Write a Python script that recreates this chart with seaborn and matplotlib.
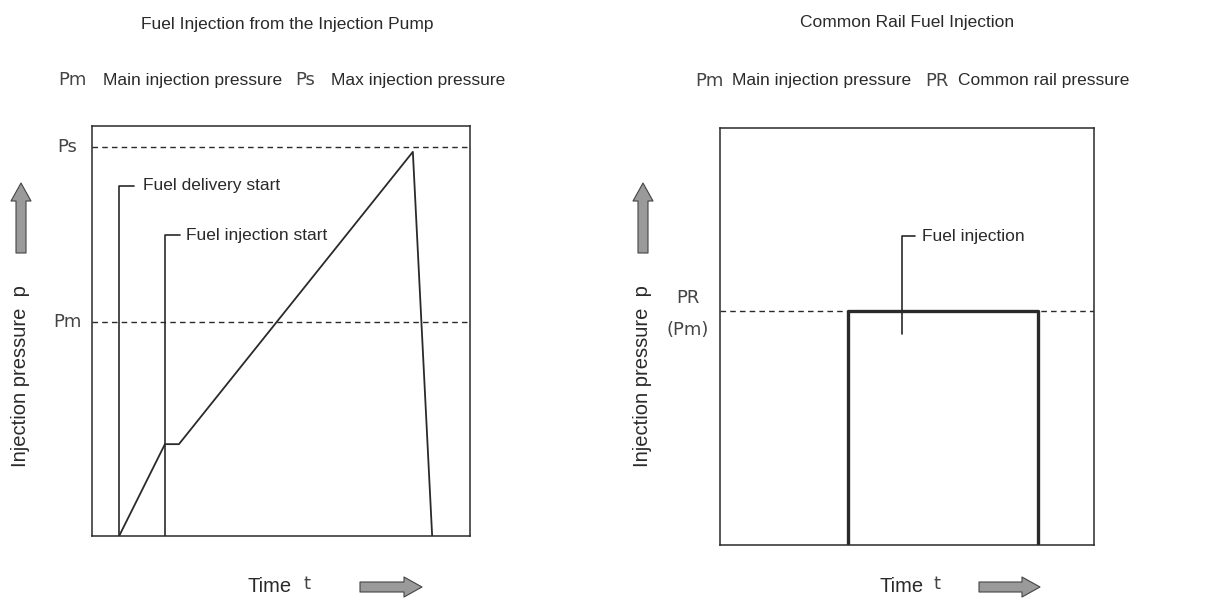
import matplotlib
matplotlib.use("Agg")
import matplotlib.pyplot as plt
import seaborn as sns
import pandas as pd

W, H = 1219, 599

# left panel (pump injection), time and pressure in % of axis
pump_t = [7.3, 19.4, 23.1, 84.9, 90.0]
pump_p = [0.0, 22.4, 22.4, 93.7, 0.0]
ps_level = 94.9
pm_level = 52.2
delivery_t, delivery_top = 7.3, 85.4
inject_t, inject_top = 19.4, 73.4

# right panel (common rail)
rail_t = [34.2, 34.2, 85.0, 85.0]
rail_p = [0.0, 56.0, 56.0, 0.0]
pr_level = 56.0
rail_mark_t, rail_mark_top, rail_mark_bot = 48.7, 74.1, 50.6

sns.set_style("white")
plt.rcParams["font.family"] = ["Liberation Sans", "DejaVu Sans"]

ink = "#2a2a2a"
fig = plt.figure(figsize=(W / 100, H / 100), dpi=100)


def fx(x):
    return x / W


def fy(y):
    return 1 - y / H


ax1 = fig.add_axes([fx(91.5), fy(536), 378.5 / W, 410 / H])
ax2 = fig.add_axes([fx(720), fy(545), 374 / W, 417 / H])

for ax in (ax1, ax2):
    ax.set_xlim(0, 100)
    ax.set_ylim(0, 100)
    ax.set_xticks([])
    ax.set_yticks([])
    for s in ax.spines.values():
        s.set_color(ink)
        s.set_linewidth(1.1)

# left curves
df1 = pd.DataFrame({"t": pump_t, "p": pump_p})
sns.lineplot(data=df1, x="t", y="p", ax=ax1, sort=False, estimator=None, color=ink, lw=1.3)
ax1.axhline(ps_level, color=ink, lw=1.0, ls=(0, (4, 3)))
ax1.axhline(pm_level, color=ink, lw=1.0, ls=(0, (4, 3)))
ax1.plot([delivery_t, delivery_t, 11.2], [0, delivery_top, delivery_top], color=ink, lw=1.2)
ax1.plot([inject_t, inject_t, 23.4], [0, inject_top, inject_top], color=ink, lw=1.2)
ax1.text(13.6, delivery_top, "Fuel delivery start", va="center", ha="left", fontsize=12.5, color=ink)
ax1.text(25.0, inject_top, "Fuel injection start", va="center", ha="left", fontsize=12.5, color=ink)

# right curves
df2 = pd.DataFrame({"t": rail_t, "p": rail_p})
sns.lineplot(data=df2, x="t", y="p", ax=ax2, sort=False, estimator=None, color=ink, lw=2.4)
ax2.axhline(pr_level, color=ink, lw=1.0, ls=(0, (4, 3)), zorder=0)
ax2.plot([rail_mark_t, rail_mark_t, 52.1], [rail_mark_bot, rail_mark_top, rail_mark_top], color=ink, lw=1.2)
ax2.text(54.0, rail_mark_top, "Fuel injection", va="center", ha="left", fontsize=12.5, color=ink)
for ax in (ax1, ax2):
    ax.set_xlabel("")
    ax.set_ylabel("")

sym = dict(family="DejaVu Sans", color="#444444", fontsize=13, va="center")
txt = dict(color=ink, fontsize=12.5, va="center")

# titles
fig.text(fx(287.5), fy(25), "Fuel Injection from the Injection Pump", ha="center", va="center", fontsize=12.5, color=ink)
fig.text(fx(907), fy(22), "Common Rail Fuel Injection", ha="center", va="center", fontsize=12.5, color=ink)

fig.text(fx(58), fy(80), "Pm", ha="left", **sym)
fig.text(fx(103), fy(80), "Main injection pressure", ha="left", **txt)
fig.text(fx(295), fy(80), "Ps", ha="left", **sym)
fig.text(fx(331), fy(80), "Max injection pressure", ha="left", **txt)

fig.text(fx(695), fy(81), "Pm", ha="left", **sym)
fig.text(fx(732), fy(81), "Main injection pressure", ha="left", **txt)
fig.text(fx(925), fy(81), "PR", ha="left", **sym)
fig.text(fx(958), fy(81), "Common rail pressure", ha="left", **txt)

# level labels
fig.text(fx(67), fy(147), "Ps", ha="center", **sym)
fig.text(fx(67), fy(322), "Pm", ha="center", **sym)
fig.text(fx(688), fy(298), "PR", ha="center", **sym)
fig.text(fx(688), fy(330), "(Pm)", ha="center", **sym)

# axis labels
for xc in (21, 643):
    fig.text(fx(xc), fy(376), "Injection pressure  p", rotation=90, ha="center", va="center",
             fontsize=14.5, color=ink)
for x0, xt in ((248, 303), (879, 933)):
    fig.text(fx(x0), fy(587), "Time", ha="left", va="center", fontsize=14.5, color=ink)
    fig.text(fx(xt), fy(584), "t", ha="left", va="center", fontsize=13, color="#444444",
             family="DejaVu Sans")

# gray block arrows
arrow = dict(arrowstyle="simple,head_length=0.9,head_width=1.0,tail_width=0.5",
             fc="#9a9a9a", ec="#444444", lw=0.8, mutation_scale=14.4, shrinkA=0, shrinkB=0)
for xc in (21, 643):
    fig.add_artist(matplotlib.patches.FancyArrowPatch((xc, H - 253), (xc, H - 183),
                                                      transform=None, **arrow))
for xa, xb in ((360, 422), (979, 1040)):
    fig.add_artist(matplotlib.patches.FancyArrowPatch((xa, H - 587), (xb, H - 587),
                                                      transform=None, **arrow))

fig.savefig("out.png", dpi=100)
